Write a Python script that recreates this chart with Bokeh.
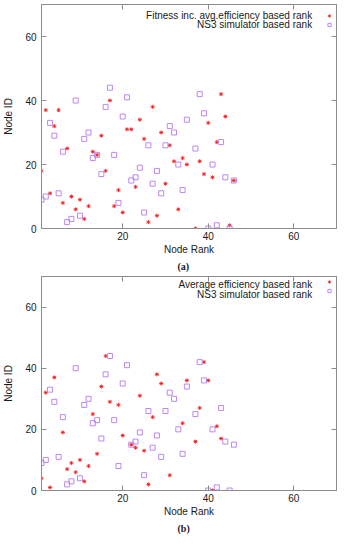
from bokeh.plotting import figure
from bokeh.models import (FixedTicker, LinearAxis, Label, Legend, LegendItem,
                          Title, Range1d, ColumnDataSource, CustomLabelingPolicy)
from bokeh.layouts import column
from bokeh.embed import file_html
from bokeh.resources import INLINE

# ---------------- data ----------------
# NS3 simulator based rank (same in both panels)
ns3_rank = [1, 2, 3, 4, 5, 6, 7, 8, 9, 10, 11, 12, 13, 14, 15, 16, 17, 18, 19, 20,
            21, 22, 23, 24, 25, 26, 27, 28, 29, 30, 31, 32, 33, 34, 35,
            37, 38, 39, 40, 41, 42, 43, 44, 45, 46]
ns3_id = [9, 10, 33, 29, 11, 24, 2, 3, 40, 4, 28, 30, 22, 23, 17, 38, 44, 23, 8, 35,
          41, 15, 16, 19, 5, 26, 14, 18, 11, 26, 32, 30, 20, 12, 34,
          25, 42, 36, 0, 20, 1, 27, 16, 0, 15]

# (a) Fitness inc. avg.efficiency based rank
fit_rank = [1, 2, 3, 4, 5, 6, 7, 8, 9, 10, 11, 12, 13, 14, 15, 16, 17, 18, 19, 20,
            21, 22, 23, 24, 25, 26, 27, 28, 29, 30, 31, 32, 33, 34, 35,
            37, 38, 39, 40, 41, 42, 43, 44, 45, 46]
fit_id = [18, 37, 11, 32, 37, 8, 25, 10, 6, 9, 3, 7, 24, 23, 29, 18, 40, 7, 12, 5,
          31, 31, 13, 34, 28, 2, 38, 4, 30, 14, 26, 21, 6, 22, 20,
          0, 21, 17, 33, 16, 27, 42, 35, 1, 15]

# (b) Average efficiency based rank
avg_rank = [1, 2, 3, 4, 6, 7, 8, 9, 10, 11, 12, 13, 14, 15, 16, 17, 19, 20,
            22, 23, 24, 25, 26, 27, 28, 29, 31, 34, 35, 37, 38, 39, 40, 41, 42, 43]
avg_id = [4, 32, 1, 37, 19, 7, 9, 6, 10, 3, 8, 25, 12, 34, 44, 29, 28, 18,
          15, 14, 31, 13, 2, 24, 38, 35, 5, 22, 36, 16, 27, 42, 36, 0, 21, 17]

x_ticks = [20, 40, 60]
y_ticks = [0, 20, 40, 60]
x_label = "Node Rank"
y_label = "Node ID"
ns3_label = "NS3 simulator based rank"

FONT = "Liberation Sans"
RED = "#f52a2a"
PURPLE = "#bb88f0"
FRAME = "#8c8c8c"
TXT = "#1a1a1a"

NO_LABELS = CustomLabelingPolicy(code="return new Set()")


def style_axis(ax, ticks, show_labels):
    ax.ticker = FixedTicker(ticks=ticks)
    ax.major_tick_in = 5
    ax.major_tick_out = 0
    ax.minor_tick_in = 0
    ax.minor_tick_out = 0
    ax.axis_line_color = FRAME
    ax.major_tick_line_color = FRAME
    ax.major_label_text_font = FONT
    ax.major_label_text_color = TXT
    if show_labels:
        ax.major_label_text_font_size = "10px"
    else:
        ax.major_label_text_font_size = "1px"
        ax.major_label_standoff = 0
        ax.major_label_policy = NO_LABELS


def make_panel(red_x, red_y, red_label, caption, leg_y1, leg_y2, height, bottom, fh):
    p = figure(width=340, height=height, x_range=Range1d(1, 70), y_range=Range1d(0, 70),
               output_backend="svg", toolbar_location=None,
               min_border_left=35, min_border_right=0, min_border_top=2,
               min_border_bottom=bottom)
    p.xgrid.visible = False
    p.ygrid.visible = False
    p.outline_line_color = FRAME
    p.background_fill_color = "white"
    p.border_fill_color = "white"

    style_axis(p.xaxis[0], x_ticks, True)
    style_axis(p.yaxis[0], y_ticks, True)
    p.xaxis[0].major_label_standoff = 3
    p.yaxis[0].major_label_standoff = 5
    p.xaxis[0].axis_label = x_label
    p.yaxis[0].axis_label = y_label
    for ax in (p.xaxis[0], p.yaxis[0]):
        ax.axis_label_text_font = FONT
        ax.axis_label_text_font_size = "10px"
        ax.axis_label_text_font_style = "normal"
        ax.axis_label_text_color = TXT
    p.xaxis[0].axis_label_standoff = 1
    p.yaxis[0].axis_label_standoff = 8

    top = LinearAxis()
    style_axis(top, x_ticks, False)
    p.add_layout(top, "above")
    right = LinearAxis()
    style_axis(right, y_ticks, False)
    p.add_layout(right, "right")

    src_r = ColumnDataSource(dict(x=red_x, y=red_y))
    src_p = ColumnDataSource(dict(x=ns3_rank, y=ns3_id))
    r1 = p.scatter("x", "y", source=src_r, marker="asterisk", size=4,
                   line_color=RED, line_width=1)
    r2 = p.scatter("x", "y", source=src_p, marker="square", size=5,
                   fill_color=None, line_color=PURPLE, line_width=1)

    # legend texts (right aligned, gnuplot style)
    p.add_layout(Label(x=64.3, y=leg_y1, text=red_label, text_align="right",
                       text_baseline="middle", text_font=FONT, text_font_size="10px",
                       text_color=TXT))
    p.add_layout(Label(x=64.3, y=leg_y2, text=ns3_label, text_align="right",
                       text_baseline="middle", text_font=FONT, text_font_size="10px",
                       text_color=TXT))
    # legend symbols to the right of the texts
    fw = 303.0
    sx = (67.0 - 1) / 69.0 * fw
    lo = leg_y2 / 70.0 * fh - 4.5
    leg = Legend(items=[LegendItem(label=" ", renderers=[r1]),
                        LegendItem(label=" ", renderers=[r2])],
                 location=(sx - 6, lo + 3), orientation="vertical",
                 glyph_width=8, glyph_height=9, label_width=0, label_height=9,
                 label_standoff=0, spacing=0, padding=0, margin=0,
                 border_line_color=None, background_fill_alpha=0,
                 label_text_font_size="6px")
    p.add_layout(leg, "center")

    t = Title(text=caption, align="left", text_font="Liberation Serif",
              text_font_style="bold", text_font_size="10px", text_color=TXT,
              standoff=2, offset=136)
    p.add_layout(t, "below")
    return p


p1 = make_panel(fit_rank, fit_id, "Fitness inc. avg.efficiency based rank", "(a)",
                66.6, 63.75, 272, 44, 220.0)
p2 = make_panel(avg_rank, avg_id, "Average efficiency based rank", "(b)",
                67.3, 64.2, 262, 40, 214.0)

layout = column(p1, p2, spacing=0)
open("out.html", "w").write(file_html(layout, INLINE))
